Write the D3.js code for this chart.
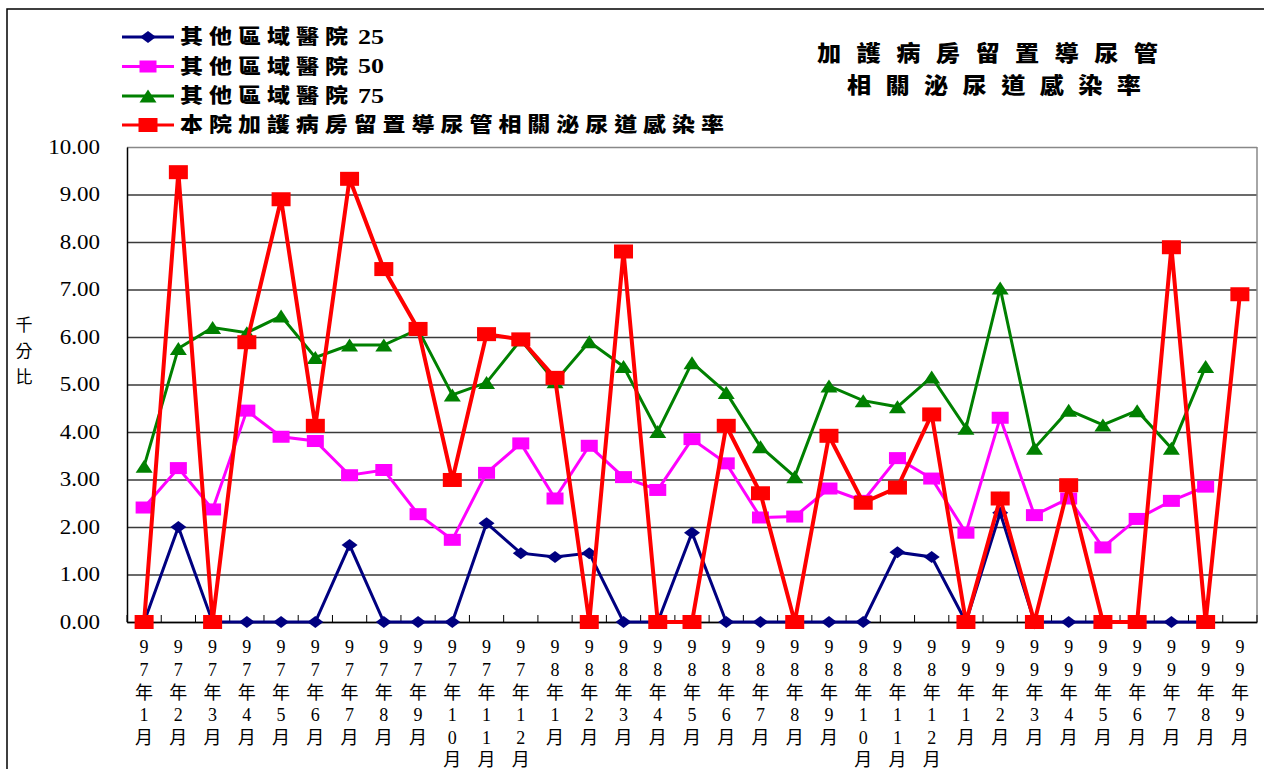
<!DOCTYPE html>
<html><head><meta charset="utf-8">
<script src="https://cdn.jsdelivr.net/npm/d3@7"></script>
<style>body{margin:0;background:#fff}</style>
</head><body><svg id="c" width="1264" height="769"></svg>
<script>
const categories = [
  "97年1月","97年2月","97年3月","97年4月","97年5月","97年6月","97年7月","97年8月","97年9月","97年10月","97年11月","97年12月",
  "98年1月","98年2月","98年3月","98年4月","98年5月","98年6月","98年7月","98年8月","98年9月","98年10月","98年11月","98年12月",
  "99年1月","99年2月","99年3月","99年4月","99年5月","99年6月","99年7月","99年8月","99年9月"
];
const p25 = [0,2.00,0,0,0,0,1.62,0,0,0,2.08,1.45, 1.37,1.45,0,0,1.88,0,0,0,0,0,1.47,1.37, 0,2.30,0,0,0,0,0,0,null];
const p50 = [2.41,3.24,2.37,4.45,3.90,3.81,3.09,3.20,2.27,1.73,3.14,3.76, 2.60,3.71,3.05,2.78,3.85,3.34,2.20,2.22,2.81,2.55,3.45,3.02, 1.88,4.30,2.25,2.60,1.57,2.17,2.55,2.85,null];
const p75 = [3.28,5.76,6.20,6.09,6.44,5.57,5.83,5.83,6.16,4.78,5.04,5.94, 5.06,5.90,5.38,4.01,5.46,4.83,3.69,3.06,4.97,4.66,4.53,5.16, 4.08,7.03,3.66,4.46,4.15,4.45,3.66,5.38,null];
const hospital = [0,9.47,0,5.89,8.90,4.13,9.33,7.43,6.17,2.99,6.06,5.95, 5.14,0,7.80,0,0,4.13,2.71,0,3.92,2.51,2.83,4.37, 0,2.60,0,2.88,0,0,7.89,0,6.90];
const seriesNames = ["其他區域醫院 25","其他區域醫院 50","其他區域醫院 75","本院加護病房留置導尿管相關泌尿道感染率"];
const yTicks = [0,1,2,3,4,5,6,7,8,9,10];
const titleLines = ["加護病房留置導尿管","相關泌尿道感染率"];
const yTitle = "千分比";

const svg = d3.select("#c");
const L = 127, R = 1257, T = 147, B = 622;
const x = d3.scaleBand().domain(categories).range([L, R]).padding(0);
const bw = x.bandwidth();
const cx = c => x(c) + bw / 2;
const y = d3.scaleLinear().domain([0, 10]).range([B, T]);

// outer border
svg.append("rect").attr("x", 7).attr("y", 9).attr("width", 1300).attr("height", 800)
  .attr("fill", "none").attr("stroke", "#000").attr("stroke-width", 1.5);

// gridlines
const grid = svg.append("g").attr("transform", `translate(${L},0)`)
  .call(d3.axisLeft(y).tickValues(yTicks).tickSize(-(R - L)).tickFormat(""));
grid.select(".domain").remove();
grid.selectAll("line").attr("stroke", "#3a3a3a").attr("stroke-width", 1.3);
grid.selectAll(".tick").filter(d => d === 10).select("line").attr("stroke", "#888");

// right border
svg.append("line").attr("x1", R).attr("x2", R).attr("y1", T).attr("y2", B).attr("stroke", "#888").attr("stroke-width", 1.5);

// y axis labels
const yAx = svg.append("g").attr("transform", `translate(${L},0)`)
  .call(d3.axisLeft(y).tickValues(yTicks).tickSize(0).tickFormat(d3.format(".2f")));
yAx.select(".domain").attr("stroke", "#000").attr("stroke-width", 1.5);
yAx.selectAll("text").attr("font-family", "'Liberation Serif', serif").attr("font-size", 20)
  .attr("fill", "#000").attr("x", -27 / 1.15).attr("transform", "scale(1.15,1)");

// x axis
const xAx = svg.append("g").attr("transform", `translate(0,${B})`)
  .call(d3.axisBottom(x).tickSize(0).tickPadding(0));
xAx.select(".domain").attr("stroke", "#000").attr("stroke-width", 1.5);
xAx.selectAll("text").each(function(d) {
  const t = d3.select(this);
  t.text(null).attr("dy", null).attr("y", null)
    .attr("font-family", "'Liberation Serif', 'Noto Sans CJK TC', serif").attr("font-size", 18).attr("fill", "#000");
  Array.from(d).forEach((ch, i) => {
    t.append("tspan").attr("x", 0).attr("y", 25 + i * 22.6).attr("dy", "0.35em").text(ch);
  });
});
// boundary ticks
svg.append("g").selectAll("line").data(categories.concat([null])).join("line")
  .attr("x1", d => d === null ? R : x(d)).attr("x2", d => d === null ? R : x(d))
  .attr("y1", B).attr("y2", B - 7).attr("stroke", "#000").attr("stroke-width", 1);

// y title
const yt = svg.append("text").attr("font-family", "'Noto Sans CJK TC', sans-serif").attr("font-size", 17)
  .attr("text-anchor", "middle").attr("fill", "#000");
Array.from(yTitle).forEach((ch, i) => yt.append("tspan").attr("x", 24).attr("y", 325 + i * 26).attr("dy", "0.35em").text(ch));

// marker shapes
function marker(g, type, w, h, color) {
  if (type === "square") {
    return g.append("rect").attr("x", -w / 2).attr("y", -h / 2).attr("width", w).attr("height", h).attr("fill", color);
  } else if (type === "diamond") {
    return g.append("path").attr("d", `M0,${-h/2}L${w/2},0L0,${h/2}L${-w/2},0Z`).attr("fill", color);
  } else {
    return g.append("path").attr("d", `M0,${-h/2}L${w/2},${h/2}L${-w/2},${h/2}Z`).attr("fill", color);
  }
}

const series = [
  {name: seriesNames[0], values: p25, color: "#000080", type: "diamond", w: 16, h: 12, sw: 3},
  {name: seriesNames[1], values: p50, color: "#FF00FF", type: "square", w: 17, h: 12, sw: 3},
  {name: seriesNames[2], values: p75, color: "#008000", type: "triangle", w: 17, h: 13, sw: 3},
  {name: seriesNames[3], values: hospital, color: "#FF0000", type: "square", w: 19, h: 14, sw: 4}
];

series.forEach(s => {
  const pts = categories.map((c, i) => ({c, v: s.values[i]}));
  const line = d3.line().defined(p => p.v !== null).x(p => cx(p.c)).y(p => y(p.v));
  svg.append("path").datum(pts).attr("d", line).attr("fill", "none")
    .attr("stroke", s.color).attr("stroke-width", s.sw).attr("stroke-linejoin", "miter");
  pts.filter(p => p.v !== null).forEach(p => {
    const g = svg.append("g").attr("transform", `translate(${cx(p.c)},${y(p.v)})`);
    marker(g, s.type, s.w, s.h, s.color);
  });
});

// legend
const legY = [37, 66.5, 96, 125];
const legW = [168, 168, 168, 544];
const sx = 1.15;
series.forEach((s, i) => {
  const g = svg.append("g").attr("transform", `translate(0,${legY[i]})`);
  g.append("line").attr("x1", 122).attr("x2", 174).attr("y1", 0).attr("y2", 0)
    .attr("stroke", s.color).attr("stroke-width", 3);
  const mg = g.append("g").attr("transform", "translate(148,0)");
  marker(mg, s.type, s.w, s.h, s.color);
  const m = s.name.match(/^(.*?)(?: (\d+))?$/);
  g.append("text").attr("x", 180 / sx).attr("y", 0).attr("dy", "0.36em")
    .attr("transform", `scale(${sx},1)`)
    .attr("font-family", "'Noto Sans CJK TC', sans-serif").attr("font-weight", 800)
    .attr("font-size", 20).attr("fill", "#000")
    .attr("textLength", legW[i] / sx).attr("lengthAdjust", "spacing").text(m[1]);
  if (m[2]) {
    g.append("text").attr("x", 358).attr("y", 0).attr("dy", "0.33em")
      .attr("font-family", "'Liberation Serif', serif").attr("font-weight", 700)
      .attr("font-size", 20).attr("fill", "#000")
      .attr("textLength", 26).attr("lengthAdjust", "spacingAndGlyphs").text(m[2]);
  }
});

// title
const titleX = [817, 847], titleY = [53, 85], titleW = [341, 294];
const tsx = 1.1;
titleLines.forEach((tl, i) => {
  svg.append("text").attr("x", titleX[i] / tsx).attr("y", titleY[i]).attr("dy", "0.36em")
    .attr("transform", `scale(${tsx},1)`)
    .attr("font-family", "'Noto Sans CJK TC', sans-serif").attr("font-weight", 800)
    .attr("font-size", 22).attr("fill", "#000")
    .attr("textLength", titleW[i] / tsx).attr("lengthAdjust", "spacing").text(tl);
});
</script>
</body></html>
